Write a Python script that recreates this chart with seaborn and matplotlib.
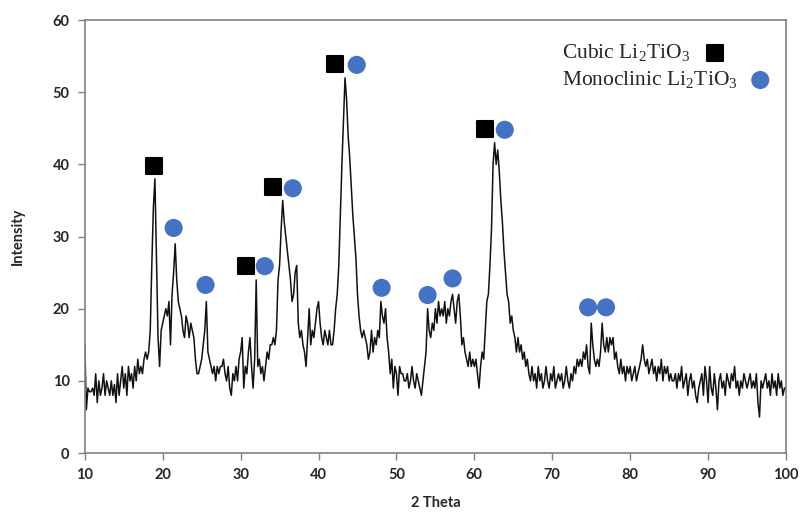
import numpy as np
import pandas as pd
import matplotlib
matplotlib.use("Agg")
import matplotlib.pyplot as plt
import seaborn as sns

# Intensity, one value every 0.2 deg from 10 to 100
intensity = [
    15, 6, 9, 8.5, 8.5, 9, 8, 11, 7, 10,        # 10
    8, 9, 11, 8, 10, 9, 8, 10, 8, 9.5,          # 12
    7, 11, 8, 10, 12, 9, 11, 8, 12, 10,         # 14
    11, 9, 12, 10, 13, 11, 12, 11, 13, 14,      # 16
    13, 14, 17, 26, 34, 38, 27, 16, 12, 17,     # 18
    18, 19, 20, 19, 21, 15, 22, 25, 29, 24,     # 20
    21, 20, 19, 17, 16, 19, 18, 16, 18, 17,     # 22
    16, 13, 11, 11, 12, 13, 15, 17, 21, 14,     # 24
    13, 12, 11, 12, 10, 12, 11, 12, 12, 13,     # 26
    11, 10, 12, 9, 8, 11, 10, 12, 10, 13,       # 28
    14, 16, 9, 12, 11, 14, 16, 12, 9, 13,       # 30
    24, 12, 13, 11, 12, 10, 12, 14, 13, 15,     # 32
    15, 16, 15, 17, 24, 26, 31, 35, 32, 30,     # 34
    28, 26, 24, 21, 22, 25, 26, 18, 16, 17,     # 36
    15, 14, 12, 16, 20, 15, 17, 16, 18, 20,     # 38
    21, 18, 16, 15, 17, 16, 15, 17, 15, 15,     # 40
    17, 20, 22, 26, 33, 40, 46, 52, 49, 44,     # 42
    41, 37, 33, 30, 27, 22, 19, 17, 16, 17,     # 44
    16, 15, 13, 14, 17, 14, 16, 15, 17, 16,     # 46
    21, 19, 18, 20, 16, 14, 11, 13, 9, 12,      # 48
    11, 8, 12, 11, 11, 10, 10, 11, 9, 10,       # 50
    12, 10, 9, 11, 10, 9, 8, 10, 12, 14,        # 52
    20, 17, 16, 18, 17, 20, 18, 21, 19, 20,     # 54
    19, 21, 18, 20, 19, 21, 22, 20, 18, 21,     # 56
    22, 19, 15, 16, 14, 13, 12, 14, 12, 13,     # 58
    12, 13, 11, 9, 12, 14, 13, 17, 21, 22,      # 60
    26, 31, 40, 43, 40, 42, 39, 35, 32, 28,     # 62
    25, 22, 21, 18, 19, 17, 16, 14, 16, 14,     # 64
    15, 13, 14, 12, 13, 11, 10, 12, 10, 11,     # 66
    9, 12, 10, 11, 9, 10, 12, 10, 9, 11,        # 68
    10, 12, 9, 10, 11, 10, 11, 9, 10, 12,       # 70
    10, 9, 11, 10, 12, 11, 13, 12, 13, 12,      # 72
    14, 13, 15, 12, 11, 18, 15, 13, 12, 13,     # 74
    12, 14, 18, 15, 14, 16, 14, 16, 15, 16,     # 76
    13, 14, 12, 11, 13, 11, 12, 10, 12, 11,     # 78
    12, 10, 11, 12, 10, 11, 12, 13, 15, 13,     # 80
    12, 13, 11, 12, 13, 11, 12, 10, 12, 11,     # 82
    13, 10, 12, 11, 12, 10, 11, 10, 10, 11,     # 84
    9, 11, 10, 12, 9, 10, 11, 8, 10, 11,        # 86
    9, 10, 8, 7, 9, 10, 11, 8, 12, 10,          # 88
    7, 12, 9, 8, 11, 9, 6, 10, 11, 9,           # 90
    10, 8, 11, 10, 9, 11, 10, 12, 9, 10,        # 92
    8, 10, 9, 11, 10, 9, 10, 11, 9, 10,         # 94
    9, 11, 7, 5, 10, 9, 10, 11, 9, 10,          # 96
    8, 11, 9, 10, 8, 11, 9, 10, 8, 9,           # 98
    9,                                          # 100
]
two_theta = np.linspace(10, 100, len(intensity))

# phase markers placed above the peaks
cubic_x = [18.9, 30.7, 34.1, 42.1, 61.4]
cubic_y = [39.8, 25.9, 36.9, 53.9, 44.9]
mono_x = [21.4, 25.5, 33.1, 36.7, 44.9, 48.1, 54.0, 57.2, 63.9, 74.6, 76.9]
mono_y = [31.2, 23.3, 25.9, 36.7, 53.8, 22.9, 21.9, 24.2, 44.8, 20.2, 20.2]

legend_labels = ["Cubic Li$_\\mathregular{2}$TiO$_\\mathregular{3}$",
                 "Monoclinic Li$_\\mathregular{2}$TiO$_\\mathregular{3}$"]

sns.set_style("ticks")
plt.rcParams["font.family"] = ["Lato", "DejaVu Sans"]

datos = pd.DataFrame({"two_theta": two_theta, "intensity": intensity})
cubic = pd.DataFrame({"x": cubic_x, "y": cubic_y})
mono = pd.DataFrame({"x": mono_x, "y": mono_y})

fig = plt.figure(figsize=(8, 5.16), dpi=100)
ax = fig.add_axes([0.106, 0.122, 0.8765, 0.839])

sns.lineplot(data=datos, x="two_theta", y="intensity", ax=ax, color="#111111",
             linewidth=1.1, estimator=None, sort=False)
sns.scatterplot(data=cubic, x="x", y="y", ax=ax, marker="s", s=140, color="black",
                edgecolor="black", linewidth=1.5, zorder=5)
sns.scatterplot(data=mono, x="x", y="y", ax=ax, marker="o", s=170, color="#4472C4",
                edgecolor="none", zorder=5)

# legend drawn as text with markers, like the original
ax.text(71.2, 55.4, legend_labels[0], family="Liberation Serif", fontsize=15.5,
        va="center", ha="left")
ax.text(71.2, 51.7, legend_labels[1], family="Liberation Serif", fontsize=15.5,
        va="center", ha="left")
sns.scatterplot(x=[90.9], y=[55.4], ax=ax, marker="s", s=140, color="black",
                edgecolor="black", linewidth=1.5, zorder=5)
sns.scatterplot(x=[96.7], y=[51.7], ax=ax, marker="o", s=170, color="#4472C4",
                edgecolor="none", zorder=5)

ax.set_xlim(10, 100)
ax.set_ylim(0, 60)
ax.set_xticks(range(10, 101, 10))
ax.set_yticks(range(0, 61, 10))
ax.tick_params(direction="out", length=5, width=1, color="#808080",
               labelsize=10.5, pad=6)
for lab in ax.get_xticklabels() + ax.get_yticklabels():
    lab.set_fontweight("bold")
for s in ax.spines.values():
    s.set_color("#808080")
    s.set_linewidth(1.2)

ax.set_xlabel("2 Theta", fontsize=10.5, fontweight="bold", labelpad=10)
ax.set_ylabel("Intensity", fontsize=10.5, fontweight="bold", labelpad=20)

plt.savefig("out.png", dpi=100)
plt.close()
